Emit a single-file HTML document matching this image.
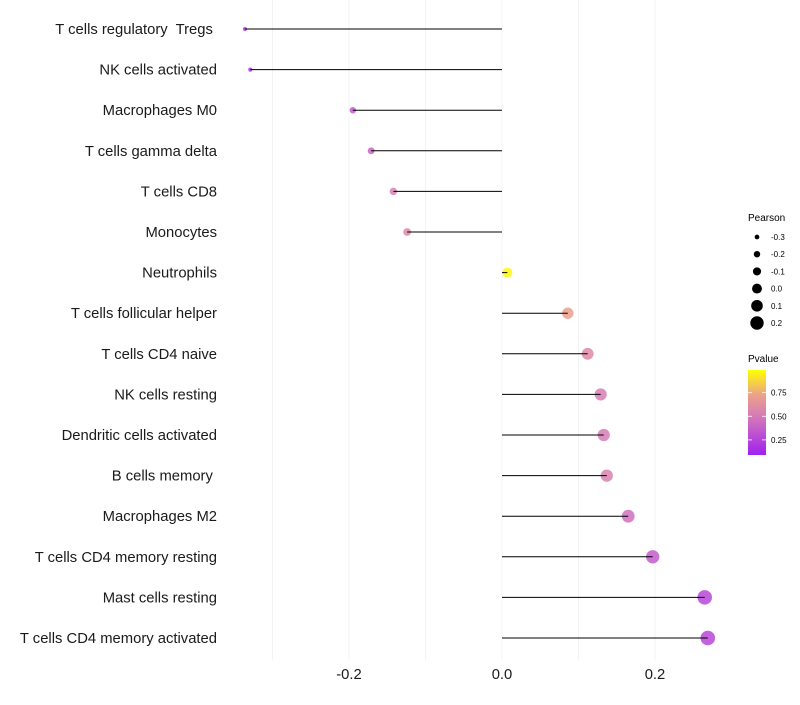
<!DOCTYPE html>
<html><head><meta charset="utf-8"><style>
body{margin:0;background:#fff;font-family:"Liberation Sans",sans-serif}
svg text{font-family:"Liberation Sans",sans-serif;white-space:pre}
</style></head><body>
<svg id="chart" width="800" height="700">
<defs><linearGradient id="pg" x1="0" y1="1" x2="0" y2="0">
<stop offset="0" stop-color="#A020F0"/><stop offset="0.45" stop-color="#D47AB8"/><stop offset="0.7" stop-color="#EBA08C"/><stop offset="1" stop-color="#FFFF00"/></linearGradient></defs>
<g id="grid"></g><g id="marks"></g><g id="labels"></g><g id="xaxis"></g>
<g id="legend">
<text x="748" y="221" font-size="10">Pearson</text>
<text x="748" y="362" font-size="10">Pvalue</text>
<rect x="748" y="370" width="18" height="85" fill="url(#pg)"/>
</g>
</svg>
<script>
const categories=["T cells regulatory  Tregs ","NK cells activated","Macrophages M0","T cells gamma delta","T cells CD8","Monocytes","Neutrophils","T cells follicular helper","T cells CD4 naive","NK cells resting","Dendritic cells activated","B cells memory ","Macrophages M2","T cells CD4 memory resting","Mast cells resting","T cells CD4 memory activated"];
const pearson=[-0.336,-0.329,-0.195,-0.171,-0.142,-0.124,0.007,0.086,0.112,0.129,0.133,0.137,0.165,0.197,0.265,0.269];
const pvalues=[0.1,0.1,0.3,0.35,0.5,0.55,0.98,0.7,0.55,0.47,0.47,0.5,0.4,0.3,0.2,0.2];
const xTicks=[-0.2,0,0.2];
const xTickLabels=["-0.2","0.0","0.2"];
const minorTicks=[-0.3,-0.1,0.1];
const sizeLegend=[-0.3,-0.2,-0.1,0.0,0.1,0.2];
const sizeLegendLabels=["-0.3","-0.2","-0.1","0.0","0.1","0.2"];
const pTicks=[0.25,0.5,0.75];
const pTickLabels=["0.25","0.50","0.75"];

const NS="http://www.w3.org/2000/svg";
const X=v=>502+v*765;
const Y=i=>29+i*40.6;
const R=v=>2+(v+0.34)/0.61*5.3;
const PY=p=>455-(p-0.09)/0.9*85;
function col(p){
  const st=[[0,[160,32,240]],[0.45,[212,122,184]],[0.7,[235,160,140]],[1,[255,255,0]]];
  for(let k=1;k<st.length;k++){if(p<=st[k][0]){const a=st[k-1],b=st[k],t=(p-a[0])/(b[0]-a[0]);return `rgb(${a[1].map((c,j)=>Math.round(c+(b[1][j]-c)*t)).join(',')})`;}}
  return 'rgb(255,255,0)';
}
function el(tag,attrs,parent){const e=document.createElementNS(NS,tag);for(const k in attrs)e.setAttribute(k,attrs[k]);parent.appendChild(e);return e;}
const grid=document.getElementById('grid'),marks=document.getElementById('marks'),labels=document.getElementById('labels'),xaxis=document.getElementById('xaxis'),legend=document.getElementById('legend');
minorTicks.concat(xTicks).forEach(v=>{
  const l=el('line',{x1:X(v),x2:X(v),y1:0,y2:660,stroke:'#f3f3f3','stroke-width':1},grid);
  
  
});
categories.forEach((c,i)=>{
  const t=el('text',{x:217,y:Y(i)+5,'font-size':14.8,'text-anchor':'end',fill:'#1a1a1a'},labels);
  t.textContent=c;
  
  
  const d=el('circle',{cx:X(pearson[i]),cy:Y(i),r:R(pearson[i]),fill:col(pvalues[i]),'fill-opacity':0.85},marks);
  
  
  const s=el('line',{x1:X(0),x2:X(pearson[i]),y1:Y(i),y2:Y(i),stroke:'#000','stroke-width':1},marks);
  
  
});
xTicks.forEach((v,k)=>{
  const t=el('text',{x:X(v),y:679,'font-size':14.8,'text-anchor':'middle',fill:'#1a1a1a'},xaxis);
  t.textContent=xTickLabels[k];
  
  
});
sizeLegend.forEach((v,k)=>{
  const y=237+k*17.2;
  const c=el('circle',{cx:757,cy:y,r:R(v),fill:'#000'},legend);
  
  
  const t=el('text',{x:771,y:y+3,'font-size':8},legend);
  t.textContent=sizeLegendLabels[k];
  
  
});
pTicks.forEach((p,k)=>{
  const y=PY(p);
  el('line',{x1:748,x2:752,y1:y,y2:y,stroke:'#fff','stroke-width':0.8},legend);
  el('line',{x1:762,x2:766,y1:y,y2:y,stroke:'#fff','stroke-width':0.8},legend);
  const t=el('text',{x:771,y:y+3,'font-size':8},legend);
  t.textContent=pTickLabels[k];
  
  
});
</script>
</body></html>
